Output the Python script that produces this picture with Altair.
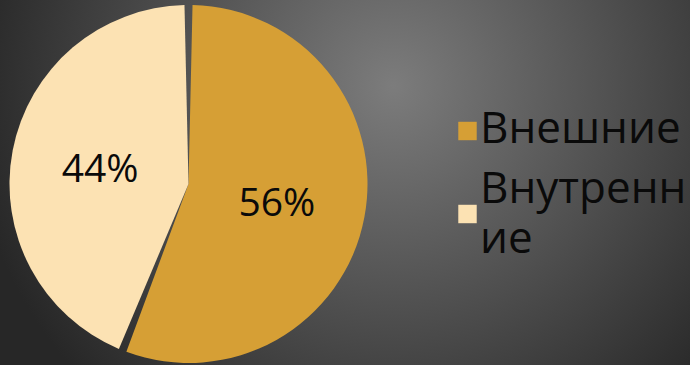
import altair as alt
import pandas as pd

categories = ["Внешние", "Внутренние"]
values = [56, 44]
order_idx = [0, 1]
legend_text = ["Внешние", "Внутренн\nие"]
colors = ["#D69F35", "#FCE2B3"]

df = pd.DataFrame({"cat": categories, "val": values, "idx": order_idx, "leg": legend_text})

W, H = 690, 365

bg_grad = alt.Gradient(
    gradient="radial",
    x1=0.57, y1=0.36, r1=0.0,
    x2=0.57, y2=0.36, r2=0.62,
    stops=[
        alt.GradientStop(offset=0, color="#7c7c7c"),
        alt.GradientStop(offset=1, color="#272727"),
    ],
)

background = alt.Chart(pd.DataFrame({"b": [0]})).mark_rect(color=bg_grad).encode(
    x=alt.value(0), x2=alt.value(W), y=alt.value(0), y2=alt.value(H)
)

color_enc = alt.Color("cat:N", scale=alt.Scale(domain=categories, range=colors), legend=None)

base = alt.Chart(df).encode(
    theta=alt.Theta("val:Q", stack=True),
    order=alt.Order("idx:Q"),
    x=alt.value(188.5),
    y=alt.value(184),
)

arcs = base.mark_arc(radius=179, padAngle=0.045).encode(color=color_enc)

labels = base.transform_joinaggregate(total="sum(val)").transform_calculate(
    pct="format(datum.val / datum.total, '.0%')"
).mark_text(radius=90, font="Open Sans", fontSize=39, color="#0a0a0a", dy=3).encode(
    text="pct:N"
)

leg_sym = alt.Chart(df).mark_square(size=340, opacity=1).encode(
    x=alt.value(467.5),
    y=alt.Y("idx:Q", scale=alt.Scale(domain=[0, 1], range=[131, 214]), axis=None),
    color=color_enc,
)

leg_txt = alt.Chart(df).mark_text(
    align="left", baseline="middle", font="Open Sans", fontSize=44,
    color="#0a0a0a", lineBreak="\n", lineHeight=50
).encode(
    x=alt.value(480),
    y=alt.Y("idx:Q", scale=alt.Scale(domain=[0, 1], range=[130, 190]), axis=None),
    text="leg:N",
)

chart = (
    alt.layer(background, arcs, labels, leg_sym, leg_txt)
    .resolve_scale(y="independent")
    .properties(width=W, height=H, padding=0, autosize=alt.AutoSizeParams(type="none"))
    .configure_view(stroke=None)
    .configure(background="#2a2a2a")
)

chart.save("out.html", embed_options={"renderer": "svg", "actions": False})
